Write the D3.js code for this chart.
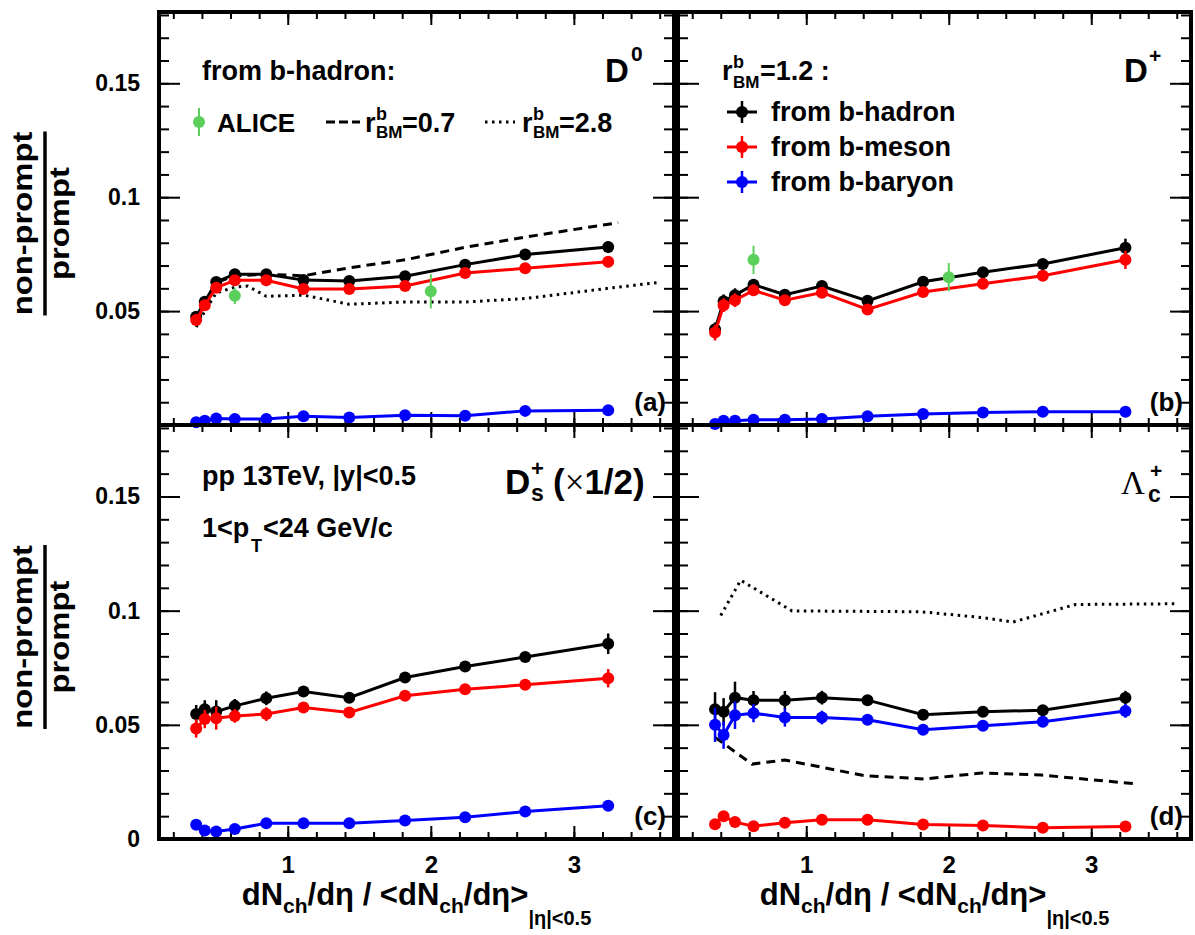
<!DOCTYPE html>
<html><head><meta charset="utf-8">
<script src="https://cdn.jsdelivr.net/npm/d3@7"></script>
<style>
body{margin:0;background:#fff}
svg{display:block;font-family:"Liberation Sans",Arial,Helvetica,sans-serif;font-weight:bold}
</style></head><body>
<svg id="c" width="1195" height="935"></svg>
<script>
// multiplicity classes: dNch/deta / <dNch/deta>
const multX = [0.36, 0.42, 0.50, 0.63, 0.85, 1.11, 1.43, 1.82, 2.24, 2.66, 3.24];

// D0 non-prompt / prompt
const d0Hadron    = [0.0475, 0.0541, 0.0628, 0.0662, 0.0662, 0.0636, 0.0632, 0.0653, 0.0704, 0.0748, 0.0781];
const d0HadronErr = [0.0020, 0.0020, 0.0015, 0.0015, 0.0012, 0.0010, 0.0010, 0.0010, 0.0012, 0.0015, 0.0025];
const d0Meson     = [0.0461, 0.0526, 0.0603, 0.0635, 0.0635, 0.0597, 0.0597, 0.0610, 0.0667, 0.0688, 0.0717];
const d0MesonErr  = [0.0020, 0.0020, 0.0015, 0.0015, 0.0012, 0.0010, 0.0010, 0.0010, 0.0012, 0.0015, 0.0025];
const d0Baryon    = [0.0012, 0.0019, 0.0029, 0.0026, 0.0026, 0.0038, 0.0033, 0.0043, 0.0041, 0.0062, 0.0065];

// D+ non-prompt / prompt
const dpHadron    = [0.0420, 0.0543, 0.0570, 0.0616, 0.0572, 0.0610, 0.0545, 0.0629, 0.0671, 0.0707, 0.0778];
const dpHadronErr = [0.0030, 0.0030, 0.0030, 0.0020, 0.0015, 0.0015, 0.0010, 0.0015, 0.0015, 0.0015, 0.0040];
const dpMeson     = [0.0406, 0.0526, 0.0548, 0.0591, 0.0548, 0.0581, 0.0507, 0.0584, 0.0620, 0.0655, 0.0725];
const dpMesonErr  = [0.0035, 0.0030, 0.0030, 0.0025, 0.0020, 0.0015, 0.0012, 0.0015, 0.0015, 0.0015, 0.0040];
const dpBaryon    = [0.0004, 0.0019, 0.0019, 0.0023, 0.0023, 0.0026, 0.0038, 0.0048, 0.0055, 0.0058, 0.0058];

// Ds+ non-prompt / prompt (scaled by 1/2)
const dsHadron    = [0.0547, 0.0568, 0.0558, 0.0583, 0.0616, 0.0646, 0.0619, 0.0707, 0.0755, 0.0797, 0.0855];
const dsHadronErr = [0.0040, 0.0040, 0.0050, 0.0030, 0.0030, 0.0020, 0.0015, 0.0015, 0.0020, 0.0020, 0.0045];
const dsMeson     = [0.0484, 0.0525, 0.0529, 0.0539, 0.0547, 0.0576, 0.0554, 0.0627, 0.0656, 0.0675, 0.0704];
const dsMesonErr  = [0.0040, 0.0040, 0.0050, 0.0030, 0.0030, 0.0020, 0.0015, 0.0015, 0.0020, 0.0020, 0.0040];
const dsBaryon    = [0.0062, 0.0037, 0.0033, 0.0044, 0.0069, 0.0069, 0.0069, 0.0081, 0.0095, 0.0120, 0.0146];

// Lambda_c+ non-prompt / prompt
const lcHadron    = [0.0568, 0.0557, 0.0619, 0.0608, 0.0608, 0.0619, 0.0608, 0.0544, 0.0557, 0.0564, 0.0619];
const lcHadronErr = [0.0075, 0.0060, 0.0070, 0.0040, 0.0040, 0.0030, 0.0020, 0.0015, 0.0015, 0.0015, 0.0030];
const lcMeson     = [0.0065, 0.0100, 0.0074, 0.0056, 0.0071, 0.0084, 0.0084, 0.0063, 0.0059, 0.0049, 0.0055];
const lcMesonErr  = [0.0020, 0.0020, 0.0010, 0.0010, 0.0010, 0.0010, 0.0008, 0.0008, 0.0008, 0.0008, 0.0010];
const lcBaryon    = [0.0500, 0.0455, 0.0542, 0.0551, 0.0532, 0.0532, 0.0522, 0.0478, 0.0496, 0.0513, 0.0561];
const lcBaryonErr = [0.0075, 0.0060, 0.0060, 0.0040, 0.0040, 0.0030, 0.0020, 0.0015, 0.0015, 0.0015, 0.0030];

// model variations of the baryon-to-meson ratio r^b_BM
const d0RbmLowX  = [0.36, 0.42, 0.50, 0.63, 0.85, 1.11, 1.43, 1.82, 2.24, 2.66, 3.31];
const d0RbmLow   = [0.0460, 0.0530, 0.0625, 0.0655, 0.0662, 0.0655, 0.0690, 0.0725, 0.0780, 0.0825, 0.0888];
const d0RbmHighX = [0.36, 0.42, 0.50, 0.63, 0.72, 0.85, 1.11, 1.43, 1.82, 2.24, 2.66, 3.24, 3.58];
const d0RbmHigh  = [0.0430, 0.0500, 0.0580, 0.0605, 0.0610, 0.0565, 0.0570, 0.0530, 0.0540, 0.0540, 0.0555, 0.0600, 0.0625];
const lcRbmLowX  = [0.36, 0.62, 0.85, 1.41, 1.83, 2.23, 2.65, 3.32];
const lcRbmLow   = [0.0445, 0.0328, 0.0346, 0.0277, 0.0263, 0.0289, 0.0280, 0.0241];
const lcRbmHighX = [0.40, 0.54, 0.90, 1.81, 2.23, 2.45, 2.89, 3.59];
const lcRbmHigh  = [0.0979, 0.1133, 0.0999, 0.0995, 0.0970, 0.0950, 0.1027, 0.1030];

// ALICE measurements
const aliceX        = [0.63, 2.00];
const aliceD0       = [0.0567, 0.0587];
const aliceD0Err    = [0.0036, 0.0075];
const aliceDplus    = [0.0725, 0.0649];
const aliceDplusErr = [0.0062, 0.0062];

// axis ticks
const yMajor = [0, 0.05, 0.1, 0.15];
const yMinor = d3.range(0, 19).map(i => i / 100);
const xMajor = [1, 2, 3];
const xMinor = d3.range(1, 19).map(i => +(i * 0.2).toFixed(1));

const BLACK = "#000", RED = "#ff0000", BLUE = "#0000ff", GREEN = "#5bcf5b";
const xDomain = [0.1, 3.7], yDomain = [0, 0.1813];
const cols = [{x0: 159, x1: 674}, {x0: 678, x1: 1191}];
const rows = [{y0: 12, y1: 425}, {y0: 425, y1: 839}];

const svg = d3.select("#c");
const defs = svg.append("defs");
defs.append("clipPath").attr("id", "zeroClip")
  .append("rect").attr("x", 0).attr("y", 422).attr("width", 159).attr("height", 4);

const zero = a => a.map(() => 0);
const panels = [
  {col: 0, row: 0, tag: "(a)",
   series: [{y: d0Hadron, e: d0HadronErr, c: BLACK}, {y: d0Meson, e: d0MesonErr, c: RED}, {y: d0Baryon, e: zero(d0Baryon), c: BLUE}],
   models: [{x: d0RbmLowX, y: d0RbmLow, dash: "9,6"}, {x: d0RbmHighX, y: d0RbmHigh, dash: "2.5,4.5"}],
   alice: {y: aliceD0, e: aliceD0Err}},
  {col: 1, row: 0, tag: "(b)",
   series: [{y: dpHadron, e: dpHadronErr, c: BLACK}, {y: dpMeson, e: dpMesonErr, c: RED}, {y: dpBaryon, e: zero(dpBaryon), c: BLUE}],
   models: [], alice: {y: aliceDplus, e: aliceDplusErr}},
  {col: 0, row: 1, tag: "(c)",
   series: [{y: dsHadron, e: dsHadronErr, c: BLACK}, {y: dsMeson, e: dsMesonErr, c: RED}, {y: dsBaryon, e: zero(dsBaryon), c: BLUE}],
   models: [], alice: null},
  {col: 1, row: 1, tag: "(d)",
   series: [{y: lcHadron, e: lcHadronErr, c: BLACK}, {y: lcBaryon, e: lcBaryonErr, c: BLUE}, {y: lcMeson, e: lcMesonErr, c: RED}],
   models: [{x: lcRbmLowX, y: lcRbmLow, dash: "9,6"}, {x: lcRbmHighX, y: lcRbmHigh, dash: "2.5,4.5"}],
   alice: null}
];

function ticks(g, axis, tx, ty) {
  g.append("g").attr("transform", `translate(${tx},${ty})`)
    .call(axis.tickFormat(""))
    .call(s => s.select(".domain").remove())
    .call(s => s.selectAll("line").attr("stroke", "#000").attr("stroke-width", 2));
}

function drawPanel(p) {
  const {x0, x1} = cols[p.col], {y0, y1} = rows[p.row];
  const x = d3.scaleLinear().domain(xDomain).range([x0, x1]);
  const y = d3.scaleLinear().domain(yDomain).range([y1, y0]);
  const g = svg.append("g");

  // inward ticks on all four sides
  ticks(g, d3.axisLeft(y).tickValues(yMinor).tickSize(-10), x0, 0);
  ticks(g, d3.axisLeft(y).tickValues(yMajor).tickSize(-21), x0, 0);
  ticks(g, d3.axisRight(y).tickValues(yMinor).tickSize(-10), x1, 0);
  ticks(g, d3.axisRight(y).tickValues(yMajor).tickSize(-21), x1, 0);
  ticks(g, d3.axisTop(x).tickValues(xMinor).tickSize(-7), 0, y0);
  ticks(g, d3.axisTop(x).tickValues(xMajor).tickSize(-13), 0, y0);
  ticks(g, d3.axisBottom(x).tickValues(xMinor).tickSize(-7), 0, y1);
  ticks(g, d3.axisBottom(x).tickValues(xMajor).tickSize(-13), 0, y1);

  // tick labels
  if (p.col === 0) {
    const lab = g.append("g").attr("transform", `translate(${x0},0)`)
      .call(d3.axisLeft(y).tickValues(yMajor).tickSize(0).tickPadding(19).tickFormat(d => String(d)))
      .call(s => s.select(".domain").remove());
    lab.selectAll("text").attr("font-size", 23).attr("font-family", "Liberation Sans, Arial, sans-serif")
      .attr("font-weight", "bold").attr("fill", "#000");
    if (p.row === 0) lab.selectAll(".tick").filter(d => d === 0).attr("clip-path", "url(#zeroClip)");
  }
  if (p.row === 1) {
    g.append("g").attr("transform", `translate(0,${y1})`)
      .call(d3.axisBottom(x).tickValues(xMajor).tickSize(0).tickPadding(17).tickFormat(d3.format("d")))
      .call(s => s.select(".domain").remove())
      .selectAll("text").attr("font-size", 24).attr("font-family", "Liberation Sans, Arial, sans-serif")
      .attr("font-weight", "bold").attr("fill", "#000");
  }

  // model curves
  const mline = d3.line().x(d => x(d[0])).y(d => y(d[1]));
  p.models.forEach(m => {
    g.append("path").attr("d", mline(d3.zip(m.x, m.y)))
      .attr("fill", "none").attr("stroke", "#000").attr("stroke-width", 3)
      .attr("stroke-dasharray", m.dash);
  });

  // data series: line, error bars, markers
  const line = d3.line().x(d => x(d.x)).y(d => y(d.v));
  p.series.forEach(s => {
    const pts = multX.map((xv, i) => ({x: xv, v: s.y[i], e: s.e[i]}));
    g.append("path").attr("d", line(pts)).attr("fill", "none").attr("stroke", s.c).attr("stroke-width", 3);
    g.selectAll(null).data(pts.filter(d => d.e > 0)).join("line")
      .attr("x1", d => x(d.x)).attr("x2", d => x(d.x))
      .attr("y1", d => y(d.v - d.e)).attr("y2", d => y(d.v + d.e))
      .attr("stroke", s.c).attr("stroke-width", 2.5);
    g.selectAll(null).data(pts).join("circle")
      .attr("cx", d => x(d.x)).attr("cy", d => y(d.v)).attr("r", 6).attr("fill", s.c);
  });

  if (p.alice) {
    const pts = aliceX.map((xv, i) => ({x: xv, v: p.alice.y[i], e: p.alice.e[i]}));
    g.selectAll(null).data(pts).join("line")
      .attr("x1", d => x(d.x)).attr("x2", d => x(d.x))
      .attr("y1", d => y(d.v - d.e)).attr("y2", d => y(d.v + d.e))
      .attr("stroke", GREEN).attr("stroke-width", 2);
    g.selectAll(null).data(pts).join("circle")
      .attr("cx", d => x(d.x)).attr("cy", d => y(d.v)).attr("r", 6).attr("fill", GREEN);
  }

  // frame
  g.append("rect").attr("x", x0).attr("y", y0).attr("width", x1 - x0).attr("height", y1 - y0)
    .attr("fill", "none").attr("stroke", "#000").attr("stroke-width", 4);

  // panel tag
  g.append("text").attr("x", x1 - 8).attr("y", y1 - 14).attr("text-anchor", "end")
    .attr("font-size", 26).text(p.tag);
  return {x, y, x0, x1, y0, y1};
}

const frames = panels.map(drawPanel);

// text with absolutely placed pieces (sub/superscripts)
function rich(parts, size, anchor) {
  const t = svg.append("text").attr("font-size", size).attr("text-anchor", anchor || "start");
  parts.forEach(p => {
    const s = t.append("tspan").text(p.t);
    if (p.x !== undefined) s.attr("x", p.x);
    if (p.y !== undefined) s.attr("y", p.y);
    if (p.s) s.attr("font-size", p.s);
    if (p.f) s.attr("font-family", p.f);
    if (p.w) s.attr("font-weight", p.w);
  });
  return t;
}

// ---- panel (a): D0 ----
{
  const {x0, y0} = frames[0];
  rich([{t: "from b-hadron:", x: x0 + 43, y: y0 + 68}], 27);
  rich([{t: "D", x: x0 + 446, y: y0 + 70}, {t: "0", x: x0 + 472, y: y0 + 49, s: 21}], 33);
  // ALICE legend entry
  svg.append("line").attr("x1", x0 + 40).attr("x2", x0 + 40).attr("y1", y0 + 96).attr("y2", y0 + 124)
    .attr("stroke", GREEN).attr("stroke-width", 2);
  svg.append("circle").attr("cx", x0 + 40).attr("cy", y0 + 110).attr("r", 6).attr("fill", GREEN);
  rich([{t: "ALICE", x: x0 + 58, y: y0 + 120}], 26);
  // model legend entries
  svg.append("line").attr("x1", x0 + 167).attr("x2", x0 + 201).attr("y1", y0 + 110).attr("y2", y0 + 110)
    .attr("stroke", "#000").attr("stroke-width", 3).attr("stroke-dasharray", "9,4");
  rich([{t: "r", x: x0 + 206, y: y0 + 120}, {t: "b", x: x0 + 217, y: y0 + 108, s: 18},
        {t: "BM", x: x0 + 217, y: y0 + 126, s: 17}, {t: "=0.7", x: x0 + 243, y: y0 + 120}], 27);
  svg.append("line").attr("x1", x0 + 326).attr("x2", x0 + 356).attr("y1", y0 + 110).attr("y2", y0 + 110)
    .attr("stroke", "#000").attr("stroke-width", 3).attr("stroke-dasharray", "2.5,4.5");
  rich([{t: "r", x: x0 + 363, y: y0 + 120}, {t: "b", x: x0 + 374, y: y0 + 108, s: 18},
        {t: "BM", x: x0 + 374, y: y0 + 126, s: 17}, {t: "=2.8", x: x0 + 400, y: y0 + 120}], 27);
}

// ---- panel (b): D+ ----
{
  const {x0, y0} = frames[1];
  rich([{t: "r", x: x0 + 44, y: y0 + 68}, {t: "b", x: x0 + 55, y: y0 + 56, s: 18},
        {t: "BM", x: x0 + 55, y: y0 + 76, s: 17}, {t: "=1.2 :", x: x0 + 82, y: y0 + 68}], 27);
  rich([{t: "D", x: x0 + 446, y: y0 + 70}, {t: "+", x: x0 + 471, y: y0 + 51, s: 21}], 33);
  const entries = [["from b-hadron", BLACK], ["from b-meson", RED], ["from b-baryon", BLUE]];
  entries.forEach(([label, c], i) => {
    const cy = y0 + 100 + i * 35;
    svg.append("line").attr("x1", x0 + 49).attr("x2", x0 + 79).attr("y1", cy).attr("y2", cy)
      .attr("stroke", c).attr("stroke-width", 3);
    svg.append("line").attr("x1", x0 + 64).attr("x2", x0 + 64).attr("y1", cy - 11).attr("y2", cy + 11)
      .attr("stroke", c).attr("stroke-width", 2.5);
    svg.append("circle").attr("cx", x0 + 64).attr("cy", cy).attr("r", 6).attr("fill", c);
    rich([{t: label, x: x0 + 93, y: cy + 9}], 27);
  });
}

// ---- panel (c): Ds+ ----
{
  const {x0, y0} = frames[2];
  rich([{t: "pp 13TeV, |y|<0.5", x: x0 + 43, y: y0 + 60}], 27);
  rich([{t: "1<p", x: x0 + 43, y: y0 + 112}, {t: "T", x: x0 + 92, y: y0 + 127, s: 18},
        {t: "<24 GeV/c", x: x0 + 104, y: y0 + 112}], 27);
  rich([{t: "D", x: x0 + 346, y: y0 + 69}, {t: "+", x: x0 + 372, y: y0 + 51, s: 22},
        {t: "s", x: x0 + 372, y: y0 + 76, s: 23},
        {t: "(", x: x0 + 394, y: y0 + 69},
        {t: "\u00d7", f: "Liberation Serif, serif", w: "normal"},
        {t: "1/2)"}], 35);
}

// ---- panel (d): Lambda_c+ ----
{
  const {x0, y0} = frames[3];
  rich([{t: "\u039b", x: x0 + 443, y: y0 + 69, f: "Liberation Serif, serif", w: "normal", s: 33},
        {t: "+", x: x0 + 472, y: y0 + 53, s: 21},
        {t: "c", x: x0 + 470, y: y0 + 77, s: 23}], 28);
}

// ---- axis titles ----
frames.filter((f, i) => i >= 2).forEach(f => {
  const cx = (f.x0 + f.x1) / 2;
  const t = svg.append("text").attr("x", cx).attr("y", 905).attr("text-anchor", "middle").attr("font-size", 31);
  const seg = (txt, dy, size) => {
    const s = t.append("tspan").text(txt);
    if (dy) s.attr("dy", dy);
    if (size) s.attr("font-size", size);
  };
  seg("dN"); seg("ch", 8, 21); seg("/d\u03b7 / <dN", -8); seg("ch", 8, 21); seg("/d\u03b7>", -8);
  seg("|\u03b7|<0.5", 20, 20);
});

frames.filter((f, i) => i % 2 === 0).forEach(f => {
  const cy = (f.y0 + f.y1) / 2 + 5;
  const g = svg.append("g").attr("transform", `translate(0,${cy})`);
  g.append("line").attr("x1", 45).attr("x2", 45).attr("y1", -92).attr("y2", 92)
    .attr("stroke", "#000").attr("stroke-width", 3.5);
  g.append("text").attr("transform", "translate(32,0) rotate(-90) scale(1.17,1)")
    .attr("text-anchor", "middle").attr("font-size", 28).text("non-prompt");
  g.append("text").attr("transform", "translate(69,0) rotate(-90) scale(1.17,1)")
    .attr("text-anchor", "middle").attr("font-size", 28).text("prompt");
});
</script>
</body></html>
